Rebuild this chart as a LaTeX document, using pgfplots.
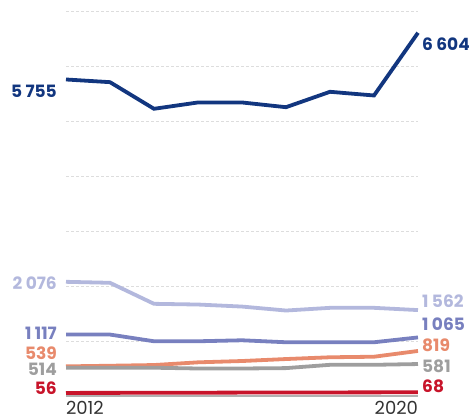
\documentclass[border=0pt]{standalone}
\usepackage{fontspec}
\setmainfont{Poppins}
\usepackage{pgfplots}
\pgfplotsset{compat=1.18}
\definecolor{cNavy}{HTML}{12367F}
\definecolor{cLav}{HTML}{B3B8DD}
\definecolor{cMid}{HTML}{7880BF}
\definecolor{cOra}{HTML}{E88A6C}
\definecolor{cGray}{HTML}{9E9E9E}
\definecolor{cRed}{HTML}{C8142A}
\definecolor{cGrid}{HTML}{DDDDDD}
\newcommand{\gsp}{\hspace{0.2em}}
\tikzset{lbl/.style={font=\fontsize{17}{17}\selectfont\bfseries, inner sep=0pt}}
\begin{document}
\begin{tikzpicture}
\useasboundingbox (0,0) rectangle (469pt,420pt);
\begin{axis}[
  at={(66pt,24pt)}, anchor=south west,
  scale only axis, width=352pt, height=385pt,
  xmin=2012, xmax=2020, ymin=0, ymax=7000,
  clip=false,
  axis line style={draw=none},
  xtick={2012,2020},
  xticklabels={\makebox[0pt][l]{2012},\makebox[0pt][r]{2020}},
  xticklabel style={anchor=north, font=\fontsize{18}{18}\selectfont, text=black!80, yshift=-2pt},
  major tick length=0pt,
  ytick={1000,2000,3000,4000,5000,6000,7000},
  yticklabels={},
  ymajorgrids,
  grid style={cGrid, dash pattern=on 2.5pt off 2.5pt, line width=0.8pt},
  extra y ticks={0},
  extra y tick labels={},
  extra y tick style={grid style={solid, draw=cGray!80, line width=2pt}},
  every axis plot/.append style={line width=3.8pt, no markers},
]
\addplot[cLav] coordinates {(2012,2076)(2013,2058)(2014,1676)(2015,1663)(2016,1626)(2017,1554)(2018,1603)(2019,1603)(2020,1562)};
\addplot[cMid] coordinates {(2012,1117)(2013,1117)(2014,995)(2015,995)(2016,1013)(2017,977)(2018,977)(2019,977)(2020,1065)};
\addplot[cOra] coordinates {(2012,539)(2013,550)(2014,563)(2015,612)(2016,636)(2017,672)(2018,704)(2019,714)(2020,819)};
\addplot[cGray] coordinates {(2012,514)(2013,514)(2014,514)(2015,500)(2016,500)(2017,507)(2018,567)(2019,567)(2020,581)};
\addplot[cRed] coordinates {(2012,56)(2013,57)(2014,58)(2015,60)(2016,62)(2017,63)(2018,65)(2019,66)(2020,68)};
\addplot[cNavy] coordinates {(2012,5755)(2013,5706)(2014,5222)(2015,5337)(2016,5337)(2017,5251)(2018,5531)(2019,5464)(2020,6604)};
% left labels
\node[lbl, text=cNavy, anchor=east] at (axis cs:2012,5545) [xshift=-9pt] {5\gsp755};
\node[lbl, text=cLav, anchor=east] at (axis cs:2012,2055) [xshift=-9pt] {2\gsp076};
\node[lbl, text=cMid, anchor=east] at (axis cs:2012,1136) [xshift=-9pt] {1\gsp117};
\node[lbl, text=cOra, anchor=east] at (axis cs:2012,782) [xshift=-9pt] {539};
\node[lbl, text=cGray, anchor=east] at (axis cs:2012,491) [xshift=-9pt] {514};
\node[lbl, text=cRed, anchor=east] at (axis cs:2012,145) [xshift=-9pt] {56};
% right labels
\node[lbl, text=cNavy, anchor=west] at (axis cs:2020,6400) [xshift=4pt] {6\gsp604};
\node[lbl, text=cLav, anchor=west] at (axis cs:2020,1715) [xshift=4pt] {1\gsp562};
\node[lbl, text=cMid, anchor=west] at (axis cs:2020,1309) [xshift=4pt] {1\gsp065};
\node[lbl, text=cOra, anchor=west] at (axis cs:2020,927) [xshift=4pt] {819};
\node[lbl, text=cGray, anchor=west] at (axis cs:2020,545) [xshift=4pt] {581};
\node[lbl, text=cRed, anchor=west] at (axis cs:2020,169) [xshift=4pt] {68};
\end{axis}
\end{tikzpicture}
\end{document}
